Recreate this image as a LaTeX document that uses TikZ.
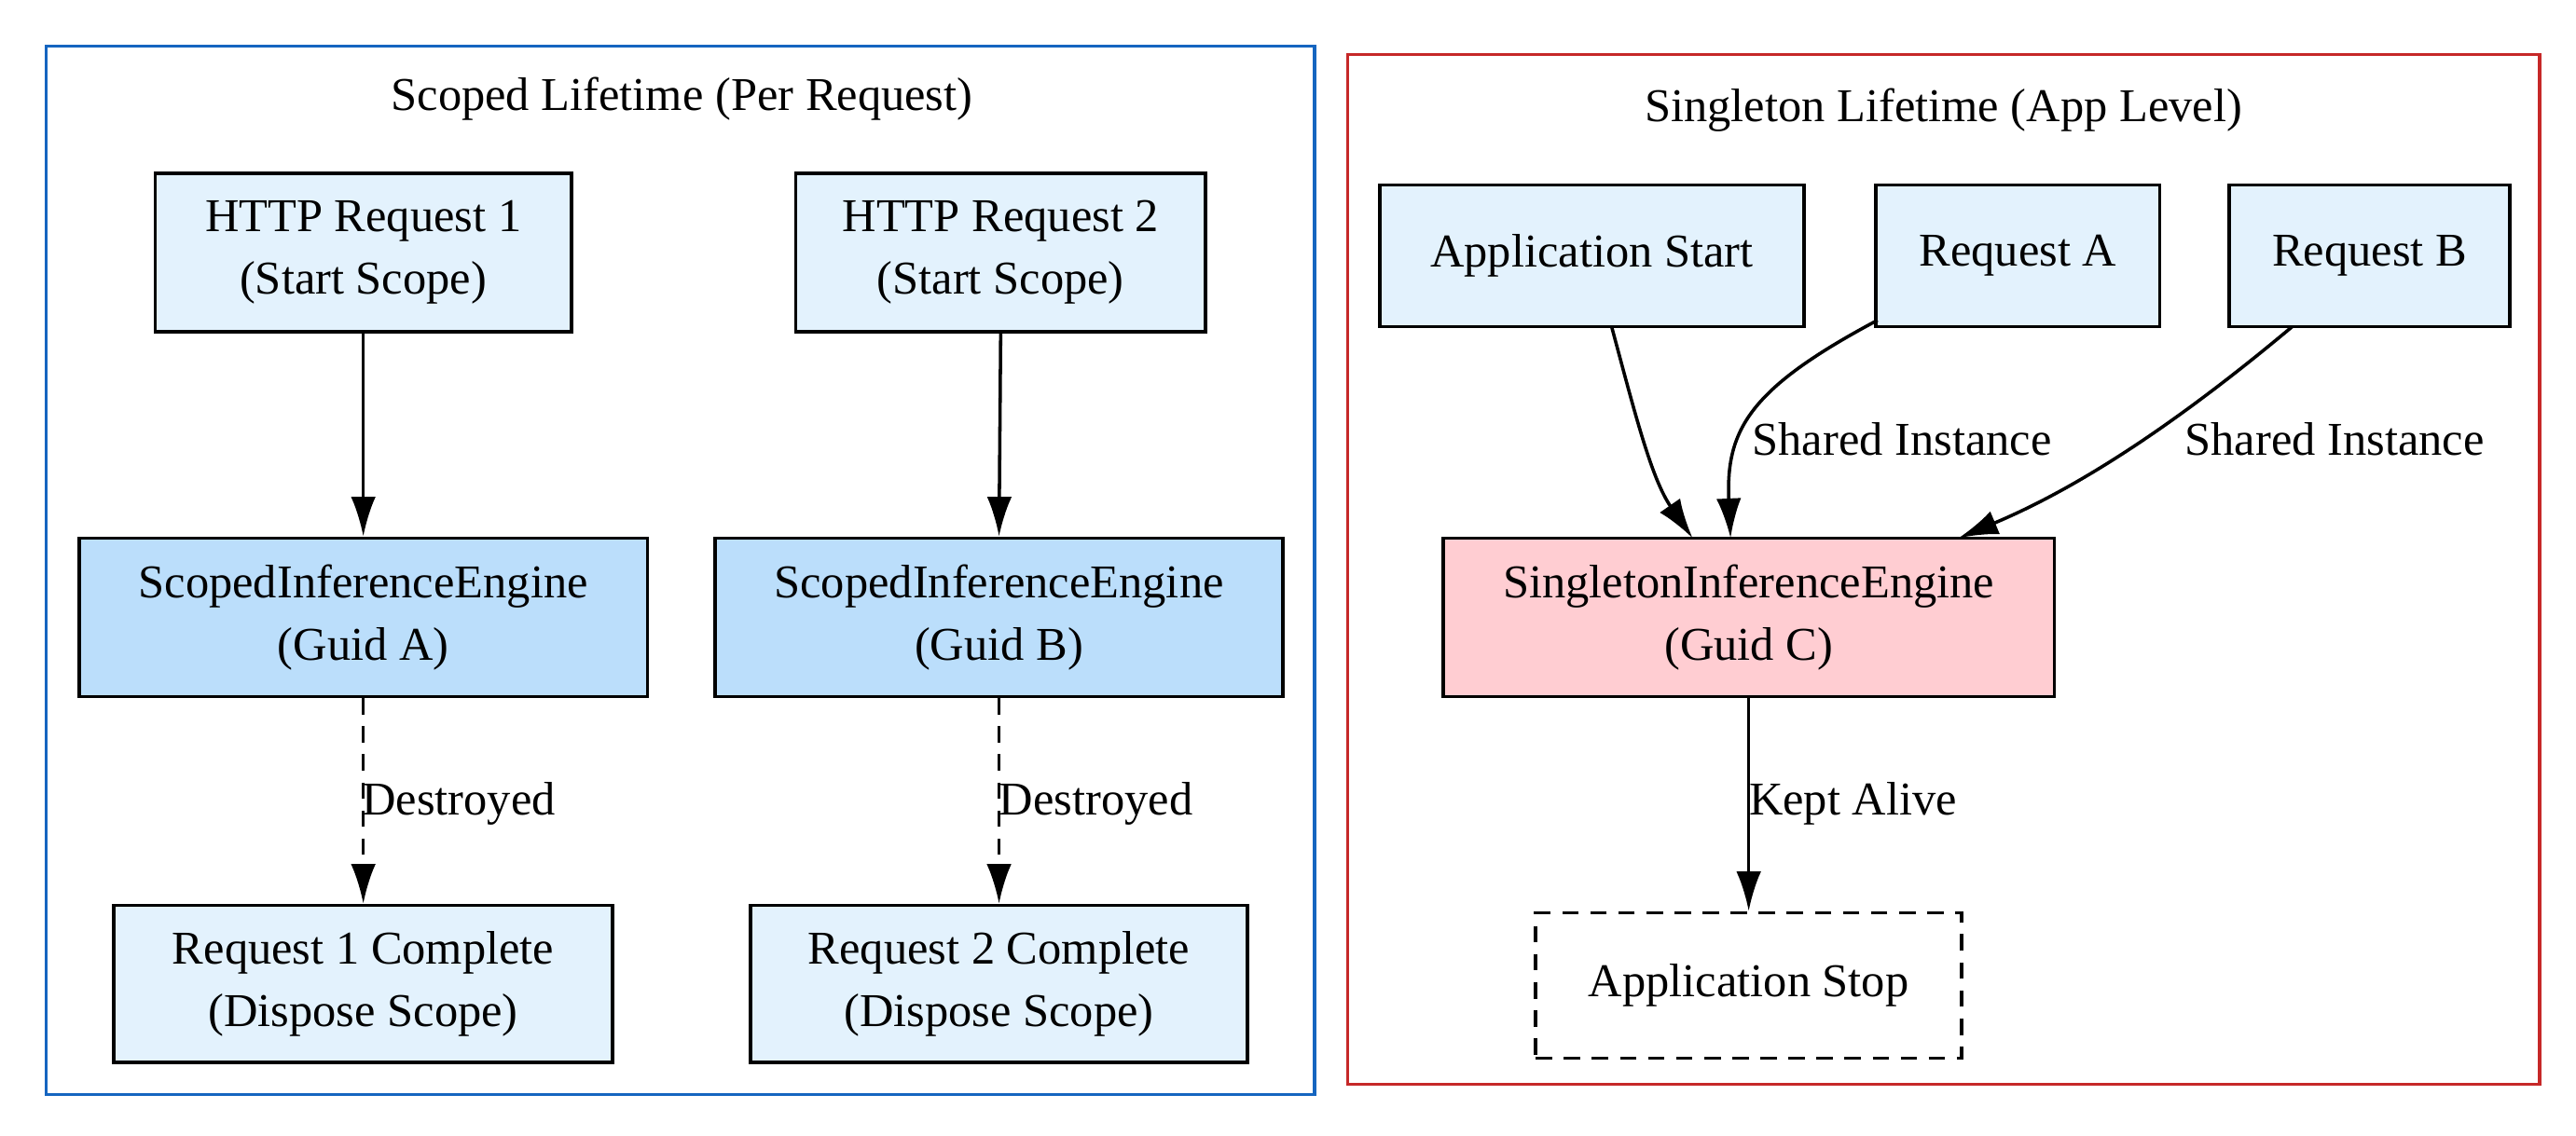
\documentclass[tikz,border=0pt]{standalone}
\usepackage{fontspec}
\setmainfont{Liberation Serif}
\usetikzlibrary{arrows.meta}
\definecolor{lb}{HTML}{E3F2FD}
\definecolor{mb}{HTML}{BBDEFB}
\definecolor{pk}{HTML}{FFCDD2}
\definecolor{cb}{HTML}{1565C0}
\definecolor{cr}{HTML}{C62828}
\begin{document}
\begin{tikzpicture}[x=1pt,y=-1pt,
 box/.style={draw,line width=2pt,minimum height=96pt,align=center,font=\fontsize{28.5}{38}\selectfont,inner sep=0pt},
 lab/.style={font=\fontsize{28.5}{38}\selectfont,inner sep=1pt},
 arr/.style={-{Latex[length=24pt,width=15pt]},line width=2pt}]
\useasboundingbox (0,0) rectangle (1560,688);
\fill[white] (0,0) rectangle (1560,688);
\draw[cb,line width=2pt] (28,28) rectangle (796,663);
\draw[cr,line width=2pt] (816,33) rectangle (1538,657);
\node[lab] (t1) at (413,60) {Scoped Lifetime (Per Request)};
\node[lab] (t2) at (1177,67) {Singleton Lifetime (App Level)};
\node[box,fill=lb,minimum width=252pt] (h1) at (220,153) {HTTP Request 1\\(Start Scope)};
\node[box,fill=lb,minimum width=248pt] (h2) at (606,153) {HTTP Request 2\\(Start Scope)};
\node[box,fill=mb,minimum width=344pt] (sa) at (220,374) {ScopedInferenceEngine\\(Guid A)};
\node[box,fill=mb,minimum width=344pt] (sb) at (605,374) {ScopedInferenceEngine\\(Guid B)};
\node[box,fill=lb,minimum width=302pt,minimum height=95pt] (r1) at (220,596) {Request 1 Complete\\(Dispose Scope)};
\node[box,fill=lb,minimum width=301pt,minimum height=95pt] (r2) at (605,596) {Request 2 Complete\\(Dispose Scope)};
\draw[arr] (h1) -- (sa);
\draw[arr] (h2.south) -- (sb.north);
\draw[arr,dash pattern=on 10pt off 7pt] (sa) -- (r1);
\draw[arr,dash pattern=on 10pt off 7pt] (sb) -- (r2);
\node[lab,anchor=west] (d1) at (218,487) {Destroyed};
\node[lab,anchor=west] (d2) at (604,487) {Destroyed};
\node[box,fill=lb,minimum width=257pt,minimum height=86pt] (as) at (964,155) {Application Start};
\node[box,fill=lb,minimum width=172pt,minimum height=86pt] (ra) at (1222,155) {Request A};
\node[box,fill=lb,minimum width=170pt,minimum height=86pt] (rb) at (1435,155) {Request B};
\node[box,fill=pk,minimum width=370pt] (si) at (1059,374) {SingletonInferenceEngine\\(Guid C)};
\node[box,dash pattern=on 10pt off 7pt,minimum width=258pt,minimum height=88pt] (st) at (1059,597) {Application Stop};
\draw[arr] (976,198) .. controls (990,250) and (1000,290) .. (1025,326);
\draw[arr] (1137,194) .. controls (1060,235) and (1045,260) .. (1048,326);
\draw[arr] (1388,198) .. controls (1320,255) and (1260,295) .. (1186,326);
\draw[arr] (si) -- (st);
\node[lab,anchor=west] (s1) at (1060,266) {Shared Instance};
\node[lab,anchor=west] (s2) at (1322,266) {Shared Instance};
\node[lab,anchor=west] (ka) at (1058,487) {Kept Alive};
\end{tikzpicture}
\end{document}
